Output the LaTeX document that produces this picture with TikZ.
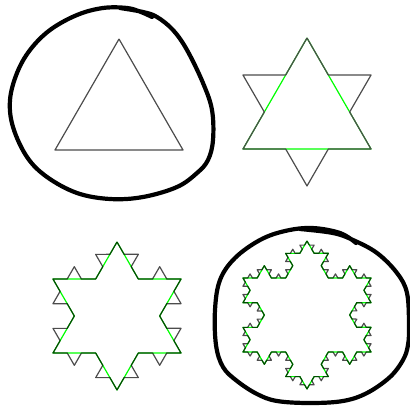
\documentclass[tikz,border=0pt]{standalone}
\usepackage{tikz}
\usetikzlibrary{decorations.fractals}
\newcommand{\kochtri}[1]{(#1a) -- (#1c) -- (#1b) -- (#1a)}

\begin{document}
\begin{tikzpicture}[x=1pt, y=-1pt, decoration=Koch snowflake, line join=round]
	\tikzset{
		prevlevel/.style={draw=green, line width=1.2pt},
		curlevel/.style={draw=black, draw opacity=0.7, line width=1.2pt},
		firstlevel/.style={draw=black!70, line width=1.2pt},
		blob/.style={draw=black, line width=4.2pt, line cap=round, line join=round}
	}
	\useasboundingbox (0,0) rectangle (410,407);
	% the four triangles the curves start from
	\coordinate (ta) at (119,39);  \coordinate (tb) at (55,150);  \coordinate (tc) at (183,150);
	\coordinate (ua) at (307,38);  \coordinate (ub) at (243,149); \coordinate (uc) at (371,149);
	\coordinate (va) at (117,242); \coordinate (vb) at (53,353);  \coordinate (vc) at (181,353);
	\coordinate (wa) at (307,241); \coordinate (wb) at (243,352); \coordinate (wc) at (371,352);

	% level 0
	\draw[firstlevel] \kochtri{t};
	% level 1
	\draw[prevlevel] \kochtri{u};
	\draw[firstlevel] decorate{\kochtri{u}};
	% level 2
	\draw[prevlevel] decorate{\kochtri{v}};
	\draw[curlevel] decorate{decorate{\kochtri{v}}};
	% level 3
	\draw[prevlevel] decorate{decorate{\kochtri{w}}};
	\draw[curlevel] decorate{decorate{decorate{\kochtri{w}}}};

	% hand drawn rings
	\draw[blob] plot[smooth, tension=0.6] coordinates {(120,8) (143,12) (157,17) (173,30) (187,50) (203,83) (212,110) (213,140) (208,160) (197,173) (177,187) (143,197) (110,199) (77,193) (47,177) (27,157) (13,127) (10,100) (17,73) (30,50) (50,30) (77,15) (103,8) (127,8) (141,12) (152,17)};
	\draw[blob] plot[smooth, tension=0.6] coordinates {(300,229) (333,233) (353,240) (377,253) (397,273) (407,293) (409,325) (408,345) (403,360) (390,377) (367,393) (343,401) (310,403) (277,401) (257,394) (237,381) (223,367) (216,345) (215,310) (220,280) (235,258) (260,240) (285,231) (312,228) (340,233) (356,243)};
\end{tikzpicture}
\end{document}
